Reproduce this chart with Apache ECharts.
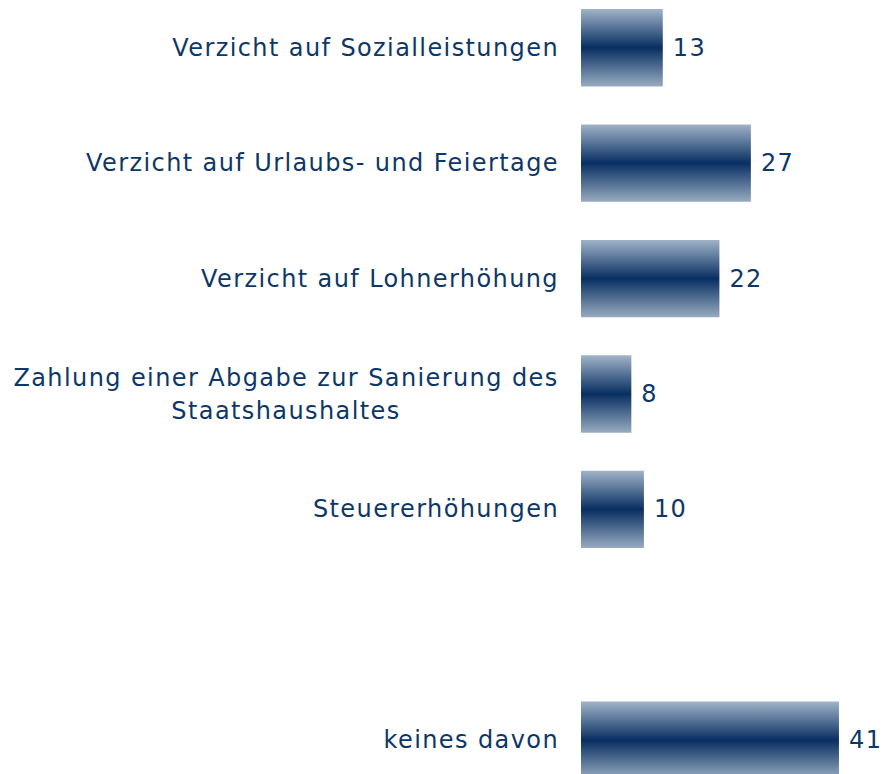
<!DOCTYPE html>
<html><head><meta charset="utf-8">
<script src="https://cdn.jsdelivr.net/npm/echarts@6/dist/echarts.min.js"></script>
<style>
html,body{margin:0;padding:0;background:#fff;overflow:hidden;width:883px;height:774px}
#c{position:absolute;left:0;top:-10px;width:883px;height:808px}
#c text{letter-spacing:1.4px}
</style>
</head><body><div id="c"></div>
<script>
const categories = [
  'Verzicht auf Sozialleistungen',
  'Verzicht auf Urlaubs- und Feiertage',
  'Verzicht auf Lohnerhöhung',
  'Zahlung einer Abgabe zur Sanierung des\nStaatshaushaltes',
  'Steuererhöhungen',
  '',
  'keines davon'
];
const values = [13, 27, 22, 8, 10, null, 41];

const FONT = 'DejaVu Sans';
const FS = 24;
const LS = 1.4;
const TXT = '#0d3768';
const cv = document.createElement('canvas').getContext('2d');
cv.font = FS + 'px "' + FONT + '"';
function w(s){ return Math.ceil(cv.measureText(s).width + LS * s.length); }

const chart = echarts.init(document.getElementById('c'), null, {renderer:'svg'});
chart.setOption({
  animation: false,
  grid: {left: 581, top: 0, width: 302, height: 808, containLabel: false},
  xAxis: {type: 'value', min: 0, max: 48, show: false},
  yAxis: {
    type: 'category', inverse: true, data: categories,
    axisLine: {show: false}, axisTick: {show: false},
    axisLabel: {
      margin: 22, color: TXT, fontFamily: FONT, fontSize: FS, align: 'right',
      formatter: function (v) {
        if (v.indexOf('\n') < 0) return v;
        return v.split('\n').map(l => '{m|' + l + '}').join('\n');
      },
      rich: {m: {color: TXT, fontFamily: FONT, fontSize: FS, lineHeight: 33, align: 'center', width: w('Zahlung einer Abgabe zur Sanierung des')}}
    }
  },
  series: [{
    type: 'bar', data: values, barCategoryGap: '33%',
    itemStyle: {
      color: new echarts.graphic.LinearGradient(0, 0, 0, 1, [
        {offset: 0, color: '#a0b3c8'},
        {offset: 0.5, color: '#082f62'},
        {offset: 1, color: '#98abc0'}
      ])
    },
    label: {show: true, position: 'right', distance: 10, color: TXT, fontFamily: FONT, fontSize: FS}
  }]
});
</script></body></html>
